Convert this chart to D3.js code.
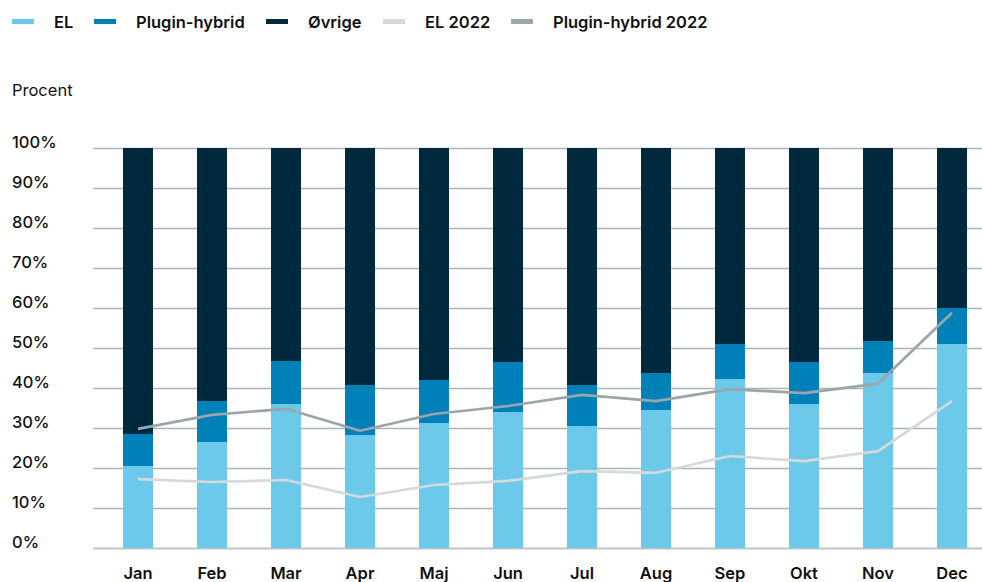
<!DOCTYPE html>
<html>
<head>
<meta charset="utf-8">
<script src="https://cdn.jsdelivr.net/npm/d3@7"></script>
<style>
  html, body { margin: 0; padding: 0; background: #fff; }
  svg { display: block; font-family: Inter, "Noto Sans", sans-serif; }
</style>
</head>
<body>
<svg id="chart" width="982" height="582"></svg>
<script>
const months = ["Jan","Feb","Mar","Apr","Maj","Jun","Jul","Aug","Sep","Okt","Nov","Dec"];
const el      = [20.5, 26.5, 36.0, 28.25, 31.25, 34.0, 30.5, 34.5, 42.25, 36.0, 43.75, 51.0];
const plugin  = [8.0, 10.25, 10.75, 12.5, 10.75, 12.5, 10.25, 9.25, 8.75, 10.5, 8.0, 9.0];
const ovrige  = el.map((v, i) => 100 - v - plugin[i]);
const el2022  = [17.2, 16.5, 17.0, 12.75, 15.75, 16.8, 19.2, 18.8, 23.0, 21.7, 24.2, 36.7];
const ph2022  = [29.8, 33.3, 34.8, 29.3, 33.5, 35.5, 38.3, 36.7, 39.7, 38.7, 41.1, 58.8];
const yTicks  = [0, 10, 20, 30, 40, 50, 60, 70, 80, 90, 100];
const legendLabels = ["EL", "Plugin-hybrid", "Øvrige", "EL 2022", "Plugin-hybrid 2022"];

const colors = {
  el: "#6cc9ea",
  plugin: "#0080b9",
  ovrige: "#00293d",
  el2022: "#d5d9da",
  ph2022: "#9aa6ab",
  grid: "#a9b5b9"
};

const svg = d3.select("#chart");

const x = d3.scaleBand().domain(months).range([101, 989])
  .paddingInner(0.595).paddingOuter(0.2975);
const y = d3.scaleLinear().domain([0, 100]).range([548, 148]);

// gridlines
const yAxis = d3.axisLeft(y).tickValues(yTicks).tickSize(-(982 - 93)).tickFormat(d => d + "%");
const gy = svg.append("g").attr("transform", "translate(93,0)").call(yAxis);
gy.select(".domain").remove();
gy.selectAll(".tick line").attr("stroke", colors.grid).attr("stroke-width", 1.3);
gy.selectAll(".tick text")
  .attr("x", -81).attr("dy", "-0.02em")
  .attr("text-anchor", "start")
  .attr("fill", "#111").attr("font-size", 16.5).attr("font-weight", 500)
  .style("font-family", "Inter, sans-serif");
gy.select(".tick:first-of-type line").attr("stroke", "#bcc5c8").attr("stroke-width", 2);

// stacked bars
const rows = months.map((m, i) => ({ month: m, el: el[i], plugin: plugin[i], ovrige: ovrige[i] }));
const stack = d3.stack().keys(["el", "plugin", "ovrige"]);
const series = stack(rows);
svg.append("g").selectAll("g").data(series).join("g")
  .attr("fill", d => colors[d.key])
  .selectAll("rect").data(d => d).join("rect")
  .attr("x", d => x(d.data.month))
  .attr("width", x.bandwidth())
  .attr("y", d => y(d[1]))
  .attr("height", d => y(d[0]) - y(d[1]));

// lines
const line = d3.line().x((d, i) => x(months[i]) + x.bandwidth() / 2).y(d => y(d));
svg.append("path").datum(el2022).attr("d", line)
  .attr("fill", "none").attr("stroke", colors.el2022).attr("stroke-width", 2.7).attr("stroke-linejoin", "round");
svg.append("path").datum(ph2022).attr("d", line)
  .attr("fill", "none").attr("stroke", colors.ph2022).attr("stroke-width", 2.7).attr("stroke-linejoin", "round");

// x labels
const xAxis = d3.axisBottom(x).tickSize(0).tickPadding(0);
const gx = svg.append("g").attr("transform", "translate(0,548)").call(xAxis);
gx.select(".domain").remove();
gx.selectAll(".tick text")
  .attr("y", 31).attr("dy", 0)
  .attr("fill", "#111").attr("font-size", 16.5).attr("font-weight", 600)
  .style("font-family", "Inter, sans-serif");

// y title
svg.append("text").attr("x", 12).attr("y", 96).text("Procent")
  .attr("font-size", 16.5).attr("font-weight", 400).attr("fill", "#111");

// legend
const legendColors = [colors.el, colors.plugin, colors.ovrige, colors.el2022, colors.ph2022];
const legendX = [12, 94, 266, 383, 511];
const lg = svg.append("g");
legendLabels.forEach((lab, i) => {
  lg.append("rect").attr("x", legendX[i]).attr("y", 19).attr("width", 22).attr("height", 5)
    .attr("fill", legendColors[i]);
  lg.append("text").attr("x", legendX[i] + 42).attr("y", 27.5).text(lab)
    .attr("font-size", 16.5).attr("font-weight", 600).attr("fill", "#111");
});
</script>
</body>
</html>
